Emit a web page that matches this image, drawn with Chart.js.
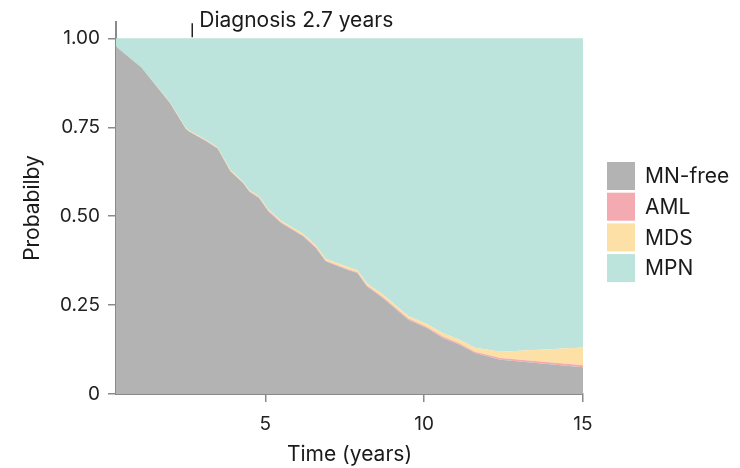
<!DOCTYPE html>
<html>
<head>
<meta charset="utf-8">
<script src="https://cdn.jsdelivr.net/npm/chart.js@4"></script>
<style>
  html, body { margin: 0; padding: 0; background: #fff; }
  #wrap { width: 740px; height: 468px; }
</style>
</head>
<body>
<div id="wrap"><canvas id="areaChart" width="740" height="468"></canvas></div>
<script>
// years since first clone detection
const times = [0.3, 1.1, 2.0, 2.5, 2.6, 3.1, 3.5, 3.9, 4.3, 4.5, 4.8, 5.1, 5.5, 6.2, 6.6, 6.9, 7.6, 7.9, 8.2, 8.7, 9.5, 10.1, 10.6, 11.1, 11.6, 12.4, 15];

// stacked state probabilities (bottom to top)
const mnFree = [0.977, 0.918, 0.818, 0.745, 0.738, 0.713, 0.690, 0.626, 0.593, 0.569, 0.551, 0.513, 0.481, 0.443, 0.410, 0.373, 0.349, 0.340, 0.302, 0.270, 0.209, 0.185, 0.157, 0.139, 0.115, 0.096, 0.075];
const aml = [0, 0, 0.001, 0.001, 0.001, 0.001, 0.001, 0.001, 0.001, 0.001, 0.002, 0.002, 0.002, 0.002, 0.002, 0.002, 0.002, 0.002, 0.003, 0.003, 0.003, 0.003, 0.004, 0.004, 0.004, 0.005, 0.006];
const mds = [0, 0, 0.001, 0.002, 0.002, 0.002, 0.002, 0.003, 0.003, 0.003, 0.003, 0.004, 0.004, 0.005, 0.005, 0.005, 0.006, 0.006, 0.006, 0.007, 0.007, 0.008, 0.010, 0.010, 0.011, 0.018, 0.050];
const mpn = [0.023, 0.082, 0.180, 0.252, 0.259, 0.284, 0.307, 0.370, 0.403, 0.427, 0.444, 0.481, 0.513, 0.550, 0.583, 0.620, 0.643, 0.652, 0.689, 0.720, 0.781, 0.804, 0.829, 0.847, 0.870, 0.881, 0.869];

const groupNames = ['MN-free', 'AML', 'MDS', 'MPN'];
const groupColors = ['#b3b3b3', '#f3aab0', '#fde0a5', '#bce3dc'];

const xTicks = [5, 10, 15];
const yTicks = [0, 0.25, 0.5, 0.75, 1];

const diagnosisYear = 2.7;
const diagnosisLabel = 'Diagnosis 2.7 years';

const FONT = 'Inter, "Noto Sans", sans-serif';
const AXIS_GREY = '#8a8a8a';

const series = [mnFree, aml, mds, mpn];

const datasets = series.map((vals, i) => ({
  label: groupNames[i],
  data: times.map((t, j) => ({ x: t, y: vals[j] })),
  backgroundColor: groupColors[i],
  borderWidth: 0,
  pointRadius: 0,
  tension: 0,
  fill: i === 0 ? 'origin' : '-1'
}));

// legend boxes on the right
const sideLegend = {
  id: 'sideLegend',
  afterDraw(chart) {
    const ctx = chart.ctx;
    ctx.save();
    ctx.font = '21px ' + FONT;
    ctx.textBaseline = 'middle';
    ctx.textAlign = 'left';
    groupNames.forEach((name, i) => {
      const top = 162 + i * 30.7;
      ctx.fillStyle = groupColors[i];
      ctx.fillRect(607, top, 28, 28);
      ctx.fillStyle = '#1a1a1a';
      ctx.fillText(name, 645, top + 15);
    });
    ctx.restore();
  }
};

// small tick + note marking time of diagnosis
const diagnosisMark = {
  id: 'diagnosisMark',
  afterDraw(chart) {
    const ctx = chart.ctx;
    const x = chart.scales.x.getPixelForValue(diagnosisYear);
    const yTop = chart.scales.y.getPixelForValue(1);
    ctx.save();
    ctx.strokeStyle = '#222';
    ctx.lineWidth = 1.5;
    ctx.beginPath();
    ctx.moveTo(x, yTop - 15);
    ctx.lineTo(x, yTop - 1);
    ctx.stroke();
    ctx.fillStyle = '#1a1a1a';
    ctx.font = '21px ' + FONT;
    ctx.textBaseline = 'alphabetic';
    ctx.textAlign = 'left';
    ctx.fillText(diagnosisLabel, x + 7, 27);
    ctx.restore();
  }
};

new Chart(document.getElementById('areaChart'), {
  type: 'line',
  data: { datasets },
  plugins: [sideLegend, diagnosisMark],
  options: {
    responsive: false,
    animation: false,
    devicePixelRatio: 1,
    layout: { padding: { top: 22, right: 157, bottom: 0, left: 0 } },
    plugins: {
      legend: { display: false },
      tooltip: { enabled: false }
    },
    scales: {
      x: {
        type: 'linear',
        min: 0.3,
        max: 15,
        afterBuildTicks: s => { s.ticks = xTicks.map(v => ({ value: v })); },
        afterFit: s => { s.height = 74; },
        grid: { drawOnChartArea: false, drawTicks: true, tickLength: 8, color: AXIS_GREY, lineWidth: 1.5 },
        border: { display: true, color: AXIS_GREY, width: 2 },
        ticks: { color: '#222', font: { family: FONT, size: 19 }, padding: 11, maxRotation: 0 },
        title: { display: true, text: 'Time (years)', color: '#1a1a1a', font: { family: FONT, size: 21 }, padding: { top: 0, bottom: 1 } }
      },
      y: {
        stacked: true,
        min: 0,
        max: 1.046,
        afterBuildTicks: s => { s.ticks = yTicks.map(v => ({ value: v })); },
        afterFit: s => { s.width = 116; },
        grid: { drawOnChartArea: false, drawTicks: true, tickLength: 8, color: AXIS_GREY, lineWidth: 1.5 },
        border: { display: true, color: AXIS_GREY, width: 2 },
        ticks: {
          color: '#222',
          font: { family: FONT, size: 19 },
          padding: 8,
          callback: v => (v === 0 ? '0' : v.toFixed(2))
        },
        title: { display: true, text: 'Probabilby', color: '#1a1a1a', font: { family: FONT, size: 21 }, padding: { top: 20, bottom: 0 } }
      }
    }
  }
});
</script>
</body>
</html>
